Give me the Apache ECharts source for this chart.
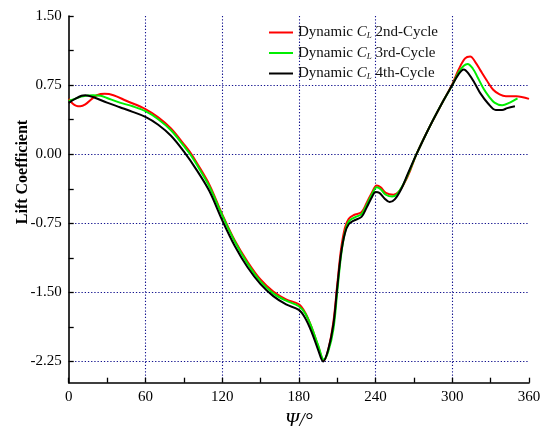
<!DOCTYPE html>
<html>
<head>
<meta charset="utf-8">
<script src="https://cdn.jsdelivr.net/npm/echarts@6/dist/echarts.min.js"></script>
<style>
  html, body { margin: 0; padding: 0; background: #fff; }
  #chart { width: 547px; height: 426px; }
</style>
</head>
<body>
<div id="chart"></div>
<script>
// Azimuth angle (deg) and lift coefficient for each revolution cycle
const psi2 = [0, 3, 6, 9, 13, 18, 22, 28, 35, 45, 60, 70, 80, 90, 95, 100, 110, 120, 130, 140, 150, 160, 170, 180, 185, 190, 195, 199.5, 203, 207, 210, 213, 216, 219, 223, 229, 233, 237, 241, 244, 248, 254, 258, 263, 267, 272, 282, 293, 300, 305, 310, 314, 318, 322, 327, 332, 337, 342, 350, 360];
const cl2 = [0.60, 0.55, 0.525, 0.52, 0.54, 0.60, 0.64, 0.655, 0.64, 0.58, 0.49, 0.40, 0.28, 0.11, 0.02, -0.09, -0.33, -0.65, -0.94, -1.17, -1.36, -1.49, -1.575, -1.63, -1.72, -1.88, -2.08, -2.24, -2.12, -1.82, -1.42, -1.03, -0.80, -0.70, -0.66, -0.63, -0.53, -0.42, -0.34, -0.36, -0.42, -0.44, -0.41, -0.30, -0.18, 0.0, 0.29, 0.58, 0.76, 0.92, 1.04, 1.06, 1.00, 0.91, 0.80, 0.70, 0.65, 0.63, 0.63, 0.60];

const psi3 = [0, 5, 10, 19, 25, 30, 40, 50, 60, 70, 80, 90, 95, 100, 110, 120, 130, 140, 150, 160, 170, 180, 185, 190, 195, 199.5, 203, 207, 210, 213, 216, 219, 223, 229, 233, 237, 241, 244, 248, 253, 257, 262, 266, 272, 282, 293, 300, 305, 309, 312, 316, 320, 324.5, 329, 333, 339, 345, 351];
const cl3 = [0.58, 0.60, 0.625, 0.64, 0.635, 0.61, 0.56, 0.52, 0.467, 0.38, 0.26, 0.09, 0.0, -0.11, -0.35, -0.66, -0.95, -1.19, -1.38, -1.51, -1.59, -1.65, -1.73, -1.88, -2.07, -2.23, -2.14, -1.90, -1.50, -1.10, -0.85, -0.73, -0.69, -0.65, -0.55, -0.44, -0.36, -0.38, -0.44, -0.46, -0.43, -0.32, -0.20, 0.0, 0.29, 0.58, 0.75, 0.89, 0.96, 0.98, 0.93, 0.83, 0.71, 0.62, 0.56, 0.53, 0.56, 0.605];

const psi4 = [0, 5, 10, 13, 20, 30, 40, 50, 60, 70, 80, 90, 100, 110, 120, 130, 140, 150, 160, 170, 180, 185, 190, 195, 199, 203, 207, 210, 213, 216, 219, 223, 229, 233, 237, 240, 243, 247, 251, 255, 260, 265, 272, 282, 293, 300, 305, 309, 313, 318, 322, 328, 334, 339, 343, 349];
const cl4 = [0.557, 0.60, 0.635, 0.64, 0.615, 0.56, 0.51, 0.46, 0.405, 0.32, 0.20, 0.03, -0.17, -0.40, -0.715, -1.0, -1.23, -1.41, -1.54, -1.63, -1.69, -1.78, -1.93, -2.12, -2.25, -2.12, -1.85, -1.45, -1.08, -0.86, -0.76, -0.72, -0.68, -0.58, -0.47, -0.41, -0.42, -0.48, -0.52, -0.49, -0.38, -0.22, 0.0, 0.29, 0.58, 0.75, 0.87, 0.92, 0.87, 0.76, 0.66, 0.55, 0.48, 0.48, 0.50, 0.52];

const seriesNames = ['Dynamic CL 2nd-Cycle', 'Dynamic CL 3rd-Cycle', 'Dynamic CL 4th-Cycle'];
const cycleTags = ['2nd-Cycle', '3rd-Cycle', '4th-Cycle'];
const seriesColors = ['#ff0000', '#00ee00', '#000000'];

// Axis ticks
const xTicks = [0, 60, 120, 180, 240, 300, 360];
const yLabels = [-2.25, -1.5, -0.75, 0, 0.75, 1.5];
const yTicks = [-2.25, -1.875, -1.5, -1.125, -0.75, -0.375, 0, 0.375, 0.75, 1.125, 1.5];
const yGrid = [-2.25, -1.5, -0.75, 0, 0.75];

const zip = (xs, ys) => xs.map((x, i) => [x, ys[i]]);
const curves = [zip(psi2, cl2), zip(psi3, cl3), zip(psi4, cl4)];

const SERIF = '"Liberation Serif", "Times New Roman", serif';
const dotted = { color: '#14148f', width: 1.1, type: [1.3, 1.9] };

const chart = echarts.init(document.getElementById('chart'), null, { renderer: 'canvas' });

chart.setOption({
  animation: false,
  backgroundColor: '#ffffff',
  grid: { left: 68.7, right: 18, top: 16, bottom: 43.3, containLabel: false, outerBoundsMode: 'none' },
  legend: {
    orient: 'vertical',
    left: 264,
    top: 20,
    itemWidth: 24,
    itemHeight: 14,
    itemGap: 5,
    icon: 'path://M0,6 L24,6 L24,8 L0,8 Z',
    data: seriesNames,
    formatter: name => {
      const tag = cycleTags[seriesNames.indexOf(name)];
      return '{n|Dynamic }{c|C}{s|L}{n| ' + tag + '}';
    },
    textStyle: {
      fontFamily: SERIF,
      fontSize: 15,
      color: '#111',
      rich: {
        n: { fontFamily: SERIF, fontSize: 15, color: '#111', lineHeight: 16 },
        c: { fontFamily: SERIF, fontSize: 15, fontStyle: 'italic', color: '#111', lineHeight: 16 },
        s: { fontFamily: SERIF, fontSize: 9, fontStyle: 'italic', color: '#111', verticalAlign: 'bottom', lineHeight: 12 }
      }
    }
  },
  xAxis: {
    type: 'value',
    min: 0,
    max: 360,
    interval: 60,
    name: 'Ψ/°',
    nameLocation: 'middle',
    nameGap: 29,
    nameTextStyle: { fontFamily: SERIF, fontSize: 20, fontStyle: 'italic', color: '#000' },
    axisLine: { show: true, onZero: false, lineStyle: { color: '#000', width: 1.6 } },
    axisTick: { show: true, inside: true, length: 5, lineStyle: { color: '#000', width: 1.3 } },
    minorTick: { show: true, splitNumber: 2, length: 5, lineStyle: { color: '#000', width: 1.3 } },
    axisLabel: { fontFamily: SERIF, fontSize: 15, color: '#000', margin: 7, customValues: xTicks },
    splitLine: { show: true, showMinLine: false, showMaxLine: false, lineStyle: dotted }
  },
  yAxis: [
    {
      type: 'value',
      min: -2.48,
      max: 1.5,
      axisLine: { show: true, onZero: false, lineStyle: { color: '#000', width: 1.6 } },
      axisTick: { show: true, inside: true, length: 5, customValues: yTicks, lineStyle: { color: '#000', width: 1.3 } },
      axisLabel: {
        fontFamily: SERIF, fontSize: 15, color: '#000', margin: 7,
        customValues: yLabels,
        formatter: v => v.toFixed(2)
      },
      splitLine: { show: false }
    },
    {
      type: 'value',
      min: -2.48,
      max: 1.5,
      position: 'left',
      axisLine: { show: false, onZero: false },
      axisTick: { show: false, customValues: yGrid },
      axisLabel: { show: false },
      splitLine: { show: true, lineStyle: dotted }
    }
  ],
  graphic: [{
    type: 'text',
    x: 23,
    y: 172,
    rotation: Math.PI / 2,
    style: {
      text: 'Lift Coefficient',
      font: 'bold 16px ' + SERIF,
      fill: '#000',
      align: 'center',
      verticalAlign: 'middle'
    }
  }],
  series: curves.map((d, i) => ({
    name: seriesNames[i],
    type: 'line',
    data: d,
    yAxisIndex: 0,
    smooth: 0.35,
    symbol: 'none',
    lineStyle: { color: seriesColors[i], width: 2 },
    itemStyle: { color: seriesColors[i] },
    z: 3 + i
  }))
});
</script>
</body>
</html>
